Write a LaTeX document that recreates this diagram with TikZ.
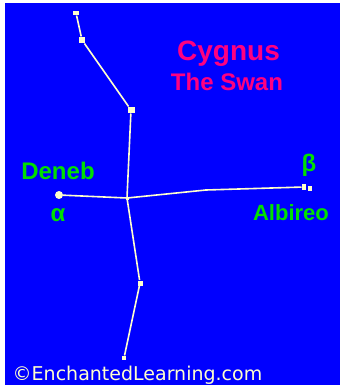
\documentclass[tikz,border=0pt]{standalone}
\usepackage{fontspec}
\setmainfont{Liberation Sans}
\newfontfamily\copyfont{DejaVu Sans}
\definecolor{skyblue}{RGB}{0,0,255}
\definecolor{starcol}{RGB}{255,255,204}
\definecolor{titlecol}{RGB}{255,0,128}
\definecolor{namecol}{RGB}{0,224,0}
\begin{document}
\begin{tikzpicture}[x=1pt,y=-1pt,
  starbox/.style={fill=starcol,draw=none,inner sep=0pt,outer sep=0.5pt,minimum width=#1,minimum height=#1},
  starbox/.default=5pt,
  linkline/.style={draw=starcol,line width=1.6pt},
  titlelbl/.style={text=titlecol,inner sep=0pt,anchor=base},
  namelbl/.style={text=namecol,inner sep=0pt,anchor=base}]
\useasboundingbox (0,0) rectangle (340,385);
\fill[white] (0,0) rectangle (340,385);
\fill[skyblue] (5,3) rectangle (340,385);
% stars
\node[starbox,minimum width=6pt,minimum height=4pt] (s1) at (76,13) {};
\node[starbox=6pt] (s2) at (82,40) {};
\node[starbox,minimum width=7pt,minimum height=6pt] (s3) at (131,110) {};
\node[starbox=3pt] (x) at (127,198) {};
\node[starbox=5pt] (s4) at (140,283) {};
\node[starbox=4pt] (s5) at (124,358) {};
\node[circle,fill=starcol,inner sep=0pt,minimum size=8pt] (deneb) at (59,195) {};
\node[starbox=2pt] (m) at (206,190) {};
\node[starbox,minimum width=4pt,minimum height=6pt] (alb) at (304,187) {};
\node[starbox,minimum width=4pt,minimum height=5pt] (alb2) at (310,188.5) {};
% links
\draw[linkline] (s1) -- (s2);
\draw[linkline] (s2) -- (s3);
\draw[linkline] (s3) -- (x.center);
\draw[linkline] (x.center) -- (s4);
\draw[linkline] (s4) -- (s5);
\draw[linkline] (deneb) -- (x.center);
\draw[linkline] (x.center) -- (m.center);
\draw[linkline] (m.center) -- (alb);
% texts
\node[titlelbl,font=\bfseries\fontsize{28}{30}\selectfont] (t1) at (228.5,61) {Cygnus};
\node[titlelbl,font=\bfseries\fontsize{24}{26}\selectfont] (t2) at (227,91) {The Swan};
\node[namelbl,font=\bfseries\fontsize{24}{26}\selectfont] (n1) at (58,179) {Deneb};
\node[namelbl,font=\bfseries\fontsize{24}{26}\selectfont] (n2) at (58,221) {α};
\node[namelbl,font=\bfseries\fontsize{24}{26}\selectfont] (n3) at (309,171) {β};
\node[namelbl,font=\bfseries\fontsize{22}{24}\selectfont] (n4) at (291,220) {Albireo};
\node[text=starcol,font=\copyfont\fontsize{19}{21}\selectfont,inner sep=0pt,anchor=base] (c) at (137.5,380) {©EnchantedLearning.com};
\end{tikzpicture}
\end{document}
